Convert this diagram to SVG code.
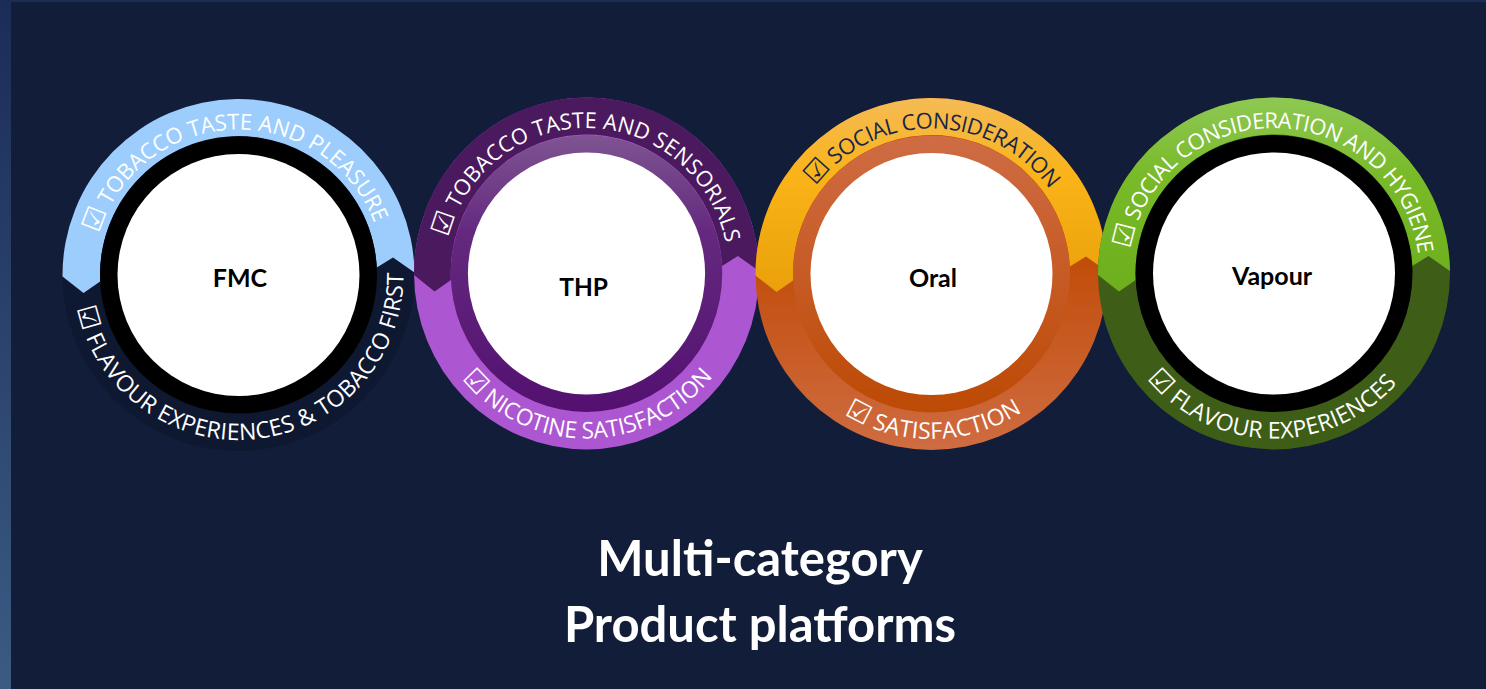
<svg xmlns="http://www.w3.org/2000/svg" width="1486" height="689" viewBox="0 0 1486 689">
  <defs>
    <style>
      .arc { font-family: "Open Sans", "DejaVu Sans", sans-serif; font-size: 22px; fill: #ffffff; text-anchor: middle; }
      .arc-b { font-size: 23px; }
      .chk { font-family: "DejaVu Sans", sans-serif; font-size: 27px; }
      .lbl { font-family: Lato, "Open Sans", sans-serif; font-weight: bold; font-size: 25px; fill: #000000; text-anchor: middle; }
      .title { font-family: Lato, "Open Sans", sans-serif; font-weight: bold; font-size: 49px; fill: #ffffff; text-anchor: middle; }
    </style>
    <linearGradient id="sideStrip" x1="0" y1="0" x2="0" y2="1">
      <stop offset="0" stop-color="#1b2c58"/>
      <stop offset="1" stop-color="#3b5b83"/>
    </linearGradient>
    <linearGradient id="thpRing" gradientUnits="userSpaceOnUse" x1="0" y1="-138" x2="0" y2="138">
      <stop offset="0" stop-color="#7e5491"/>
      <stop offset="0.35" stop-color="#64297f"/>
      <stop offset="1" stop-color="#531070"/>
    </linearGradient>
    <linearGradient id="oralTop" gradientUnits="userSpaceOnUse" x1="0" y1="-176" x2="0" y2="20">
      <stop offset="0" stop-color="#f5bb55"/>
      <stop offset="0.4" stop-color="#fab318"/>
      <stop offset="1" stop-color="#e9a00a"/>
    </linearGradient>
    <linearGradient id="oralBottom" gradientUnits="userSpaceOnUse" x1="0" y1="-20" x2="0" y2="176">
      <stop offset="0" stop-color="#c14c08"/>
      <stop offset="1" stop-color="#cf6c42"/>
    </linearGradient>
    <linearGradient id="oralRing" gradientUnits="userSpaceOnUse" x1="0" y1="-138" x2="0" y2="138">
      <stop offset="0" stop-color="#cf6c44"/>
      <stop offset="1" stop-color="#bd4a05"/>
    </linearGradient>
    <linearGradient id="vapourTop" gradientUnits="userSpaceOnUse" x1="0" y1="-176" x2="0" y2="20">
      <stop offset="0" stop-color="#8ec853"/>
      <stop offset="0.4" stop-color="#79ba29"/>
      <stop offset="1" stop-color="#6cae1c"/>
    </linearGradient>
    <!-- upper chevron segment of the outer band, centred on the origin -->
    <path id="topSeg" d="M -175.994 1.5 A 176 176 0 0 1 175.982 -2.5 L 154.5 -17.5 L 138.3 -7.5 A 138.5 138.5 0 0 0 -138.35 6.5 L -155 18 Z"/>
    <!-- baseline for labels on the upper band (clockwise, midpoint at the top) -->
    <path id="arcTop" d="M -49.76 136.72 A 145.5 145.5 0 0 1 0 -145.5 A 145.5 145.5 0 0 1 49.76 136.72" fill="none"/>
    <!-- baseline for labels on the lower band (anticlockwise, midpoint at the bottom) -->
    <path id="arcBot" d="M -56.43 -155.05 A 165 165 0 0 0 0 165 A 165 165 0 0 0 56.43 -155.05" fill="none"/>
  </defs>

  <!-- background -->
  <rect width="1486" height="689" fill="#121d3a"/>
  <rect width="1486" height="2" fill="#1b2c58"/>
  <rect width="11" height="689" fill="url(#sideStrip)"/>

  <g id="node-fmc" transform="translate(238.5 275)">
    <circle r="176" fill="#0e1830"/>
    <use href="#topSeg" fill="#9ccdfd"/>
    <circle r="138.5" fill="#000000"/>
    <circle r="121" fill="#ffffff"/>
    <text class="lbl" x="1.5" y="12">FMC</text>
    <text class="arc" transform="rotate(-2.15)"><textPath href="#arcTop" startOffset="50%" textLength="362" lengthAdjust="spacing"><tspan class="chk">☑</tspan> TOBACCO TASTE AND PLEASURE</textPath></text>
    <text class="arc arc-b" transform="rotate(-6.15)"><textPath href="#arcBot" startOffset="50%" textLength="487" lengthAdjust="spacing"><tspan class="chk">☑</tspan> FLAVOUR EXPERIENCES &amp; TOBACCO FIRST</textPath></text>
  </g>

  <g id="node-thp" transform="translate(586.5 273.5) scale(0.98 1)">
    <circle r="176" fill="#ad56d1"/>
    <use href="#topSeg" fill="#4b195e"/>
    <circle r="138.5" fill="url(#thpRing)"/>
    <circle r="121" fill="#ffffff"/>
    <text class="lbl" x="-3" y="22">THP</text>
    <text class="arc" transform="rotate(1.1)"><textPath href="#arcTop" startOffset="50%" textLength="390" lengthAdjust="spacing"><tspan class="chk">☑</tspan> TOBACCO TASTE AND SENSORIALS</textPath></text>
    <text class="arc arc-b" transform="rotate(-0.5)"><textPath href="#arcBot" startOffset="50%" textLength="293" lengthAdjust="spacing"><tspan class="chk">☑</tspan> NICOTINE SATISFACTION</textPath></text>
  </g>

  <g id="node-oral" transform="translate(931.5 274)">
    <circle r="176" fill="url(#oralBottom)"/>
    <use href="#topSeg" fill="url(#oralTop)"/>
    <circle r="138.5" fill="url(#oralRing)"/>
    <circle r="121" fill="#ffffff"/>
    <text class="lbl" x="1.5" y="12.5">Oral</text>
    <text class="arc" style="fill:#18264a" transform="rotate(0.75)"><textPath href="#arcTop" startOffset="50%" textLength="272" lengthAdjust="spacing"><tspan class="chk">☑</tspan> SOCIAL CONSIDERATION</textPath></text>
    <text class="arc arc-b" transform="rotate(-0.7)"><textPath href="#arcBot" startOffset="50%" textLength="188" lengthAdjust="spacing"><tspan class="chk">☑</tspan> SATISFACTION</textPath></text>
  </g>

  <g id="node-vapour" transform="translate(1274 273.5)">
    <circle r="176" fill="#3e5e18"/>
    <use href="#topSeg" fill="url(#vapourTop)"/>
    <circle r="138.5" fill="#000000"/>
    <circle r="121" fill="#ffffff"/>
    <text class="lbl" x="-2" y="11.5">Vapour</text>
    <text class="arc" transform="rotate(1)"><textPath href="#arcTop" startOffset="50%" textLength="413" lengthAdjust="spacing"><tspan class="chk">☑</tspan> SOCIAL CONSIDERATION AND HYGIENE</textPath></text>
    <text class="arc arc-b" transform="rotate(1.05)"><textPath href="#arcBot" startOffset="50%" textLength="284" lengthAdjust="spacing"><tspan class="chk">☑</tspan> FLAVOUR EXPERIENCES</textPath></text>
  </g>

  <g id="title">
    <text class="title" x="760" y="576">Multi-category</text>
    <text class="title" x="760" y="642">Product platforms</text>
  </g>
</svg>
